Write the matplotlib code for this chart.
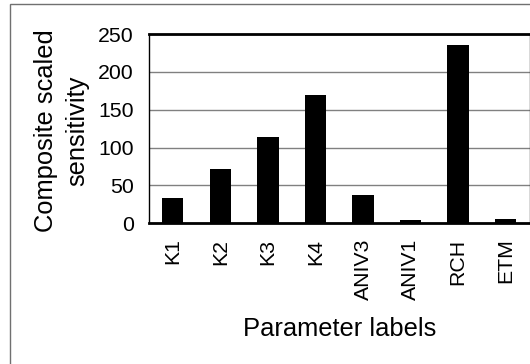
import matplotlib
matplotlib.use("Agg")
import matplotlib.pyplot as plt
from matplotlib.patches import Rectangle

categories = ["K1", "K2", "K3", "K4", "ANIV3", "ANIV1", "RCH", "ETM"]
values = [33, 72, 114, 169, 38, 4, 235, 6]
yticks = [0, 50, 100, 150, 200, 250]

plt.rcParams['font.family'] = ['Liberation Sans', 'DejaVu Sans']

W, H = 530, 364
fig = plt.figure(figsize=(W / 100, H / 100), dpi=100)
ax = fig.add_axes([149 / W, (H - 223.3) / H, 380.5 / W, 189.3 / H])

x = list(range(len(categories)))
ax.bar(x, values, width=0.45, color='black', edgecolor='none', zorder=3)

ax.set_xlim(-0.5, len(categories) - 0.5)
ax.set_ylim(0, 250)
ax.set_yticks(yticks)
ax.set_yticklabels([str(t) for t in yticks])
ax.set_xticks(x)
ax.set_xticklabels(categories, rotation=90)
ax.tick_params(axis='both', length=0, labelsize=15.3, colors='black')
ax.tick_params(axis='y', pad=11)
ax.tick_params(axis='x', pad=11)

ax.yaxis.grid(True, color='#808080', linewidth=1.0, zorder=0)
ax.set_axisbelow(True)

for s in ['top', 'bottom']:
    ax.spines[s].set_color('black')
    ax.spines[s].set_linewidth(2)
ax.spines['left'].set_color('black')
ax.spines['left'].set_linewidth(1.0)
ax.spines['right'].set_color('#404040')
ax.spines['right'].set_linewidth(1.0)

ax.set_ylabel("Composite scaled\nsensitivity", fontsize=18.4, linespacing=1.42, va='center')
ax.yaxis.set_label_coords((61.5 - 149) / 380.5, 0.49)
ax.set_xlabel("Parameter labels", fontsize=18.4, va='baseline')
ax.xaxis.set_label_coords(0.5, (28.3 - 140.7) / 189.3)

fig.patches.append(Rectangle((10.3 / W, -0.1), 1.2, (H - 4) / H + 0.1, transform=fig.transFigure,
                             fill=False, edgecolor='#707070', linewidth=1.0, clip_on=False))

fig.savefig("out.png", dpi=100)
